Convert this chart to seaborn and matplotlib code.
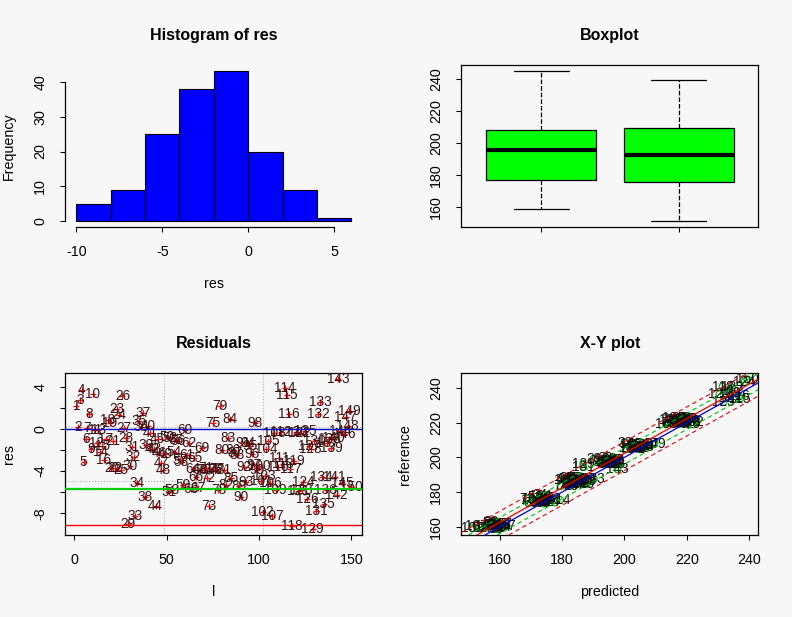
import numpy as np
import pandas as pd
import matplotlib
matplotlib.use("Agg")
import matplotlib.pyplot as plt
import seaborn as sns

res = [
    2.15, 0.18, 2.72, 3.67, -3.17, -0.95, 0.05, 1.36, -1.95, 3.26,
    -0.10, -1.30, -0.15, -2.20, -1.60, -2.98, -1.00, 0.85, 0.60, -3.70,
    -1.20, -3.75, 1.90, 1.35, -3.86, 3.16, 0.10, -0.86, -9.00, -3.50,
    -1.71, -2.66, -8.30, -5.13, 0.72, 0.15, 1.50, -6.50, -1.50, 0.25,
    -0.40, -1.90, -1.92, -7.30, -1.00, -2.30, -3.20, -3.90, -2.35, -0.80,
    -5.95, -0.90, -5.80, -2.20, -1.10, -1.20, -3.00, -3.10, -5.30, -0.13,
    -2.50, -1.30, -5.70, -3.80, -2.80, -4.60, -5.60, -3.95, -1.80, -3.90,
    -3.75, -4.70, -7.30, -3.88, 0.57, -3.95, -3.85, -5.76, 2.15, -1.96,
    -3.92, -5.30, -0.86, 0.95, -4.65, -2.05, -2.30, -2.50, -5.40, -6.45,
    -1.34, -3.60, -5.00, -1.30, -1.60, -2.40, -3.40, 0.57, -3.90, -3.50,
    -4.90, -7.90, -4.50, -1.90, -1.17, -5.10, -8.30, -0.40, -5.80, -3.60,
    -2.80, -0.30, -3.30, 3.90, 3.25, 1.45, -3.80, -9.20, -3.07, -0.30,
    -5.90, -0.35, -5.80, -5.00, -0.23, -6.70, -1.65, -1.95, -9.50, -1.20,
    -7.80, 1.45, 2.50, -4.60, -7.10, -5.80, -1.30, -1.00, -1.80, -0.85,
    -4.60, -6.30, 4.70, -0.20, -5.10, -0.50, 1.10, 0.25, 1.70, -5.55,
]

# reference values, same samples
reference = [
    185.2, 159.8, 220.4, 174.1, 197.6, 205.3, 186.9, 160.7, 221.8, 184.7,
    196.1, 184.6, 161.3, 206.8, 219.7, 177.0, 198.2, 187.5, 159.2, 222.6,
    175.3, 185.9, 196.0, 160.1, 207.2, 218.9, 174.8, 183.8, 199.1, 161.9,
    220.9, 186.2, 208.4, 178.1, 196.8, 158.8, 207.5, 188.3, 186.3, 197.3,
    204.9, 160.4, 222.1, 187.8, 176.6, 195.9, 161.6, 220.1, 185.5, 206.1,
    177.3, 198.6, 159.6, 184.9, 219.3, 174.5, 196.4, 205.8, 162.3, 186.6,
    221.5, 175.1, 199.4, 187.1, 160.9, 207.6, 222.9, 173.9, 197.9, 185.7,
    161.1, 220.6, 176.1, 183.5, 196.3, 204.6, 159.4, 219.6, 186.4, 174.6,
    198.9, 162.7, 221.9, 206.4, 188.0, 175.6, 196.2, 160.3, 220.2, 187.3,
    205.6, 188.2, 197.1, 184.3, 161.4, 222.3, 198.1, 173.5, 186.0, 221.3,
    160.6, 159.2, 221.4, 185.1, 196.7, 175.7, 160.8, 206.2, 219.1, 187.6,
    197.5, 174.3, 205.1, 175.5, 233.8, 235.2, 238.1, 240.6, 236.9, 220.7,
    236.3, 234.1, 240.2, 243.4, 231.9, 222.4, 196.9, 185.4, 196.3, 206.9,
    194.6, 220.3, 187.7, 177.6, 221.7, 186.8, 161.7, 205.5, 219.8, 185.3,
    198.4, 222.2, 193.1, 185.8, 207.4, 220.8, 160.5, 175.8, 207.9, 244.9,
]

sample_id = list(range(1, len(res) + 1))
hist_breaks = [-10, -8, -6, -4, -2, 0, 2, 4, 6]

# horizontal reference lines on the residual panel
green_level = -5.75
red_level = -9.1
# dashed bands on the X-Y panel (offsets around the 1:1 line)
band_centre = 0.7
band_inner = 4.6
band_outer = 8.3

BG = "#f7f7f7"


def r_range(vals):
    lo, hi = min(vals), max(vals)
    pad = 0.04 * (hi - lo)
    return lo - pad, hi + pad


def r_axes(ax, title, xlabel, ylabel):
    ax.set_title(title, fontsize=11.5, fontweight="bold", pad=18)
    ax.set_xlabel(xlabel, fontsize=10.3, labelpad=12.5)
    ax.set_ylabel(ylabel, fontsize=10.3, labelpad=12.5)
    ax.tick_params(axis="both", direction="out", length=3.6, width=0.75,
                   pad=9.5, labelsize=10.3, colors="black")
    ax.tick_params(axis="y", labelrotation=90)
    for t in ax.get_yticklabels():
        t.set_va("center")
    for s in ax.spines.values():
        s.set_linewidth(0.9)
        s.set_color("black")


sns.set_style("ticks", {"axes.facecolor": BG, "figure.facecolor": BG,
                        "axes.edgecolor": "black", "text.color": "black",
                        "axes.labelcolor": "black"})
plt.rcParams["font.family"] = ["Liberation Sans", "DejaVu Sans"]
plt.rcParams["axes.unicode_minus"] = False

res_arr = np.array(res)
ref_arr = np.array(reference)
predicted = ref_arr + res_arr

fig = plt.figure(figsize=(7.92, 6.17), dpi=100, facecolor=BG)
ax_hist = fig.add_axes([0.0825, 0.6316, 0.375, 0.2626])
ax_box = fig.add_axes([0.5825, 0.6316, 0.375, 0.2626])
ax_res = fig.add_axes([0.0825, 0.1329, 0.375, 0.2621])
ax_xy = fig.add_axes([0.5825, 0.1329, 0.375, 0.2621])

# --- histogram
sns.histplot(x=res, bins=hist_breaks, color="#0000ff", edgecolor="black",
             linewidth=0.8, alpha=1, ax=ax_hist)
counts, _ = np.histogram(res, bins=hist_breaks)
ax_hist.set_xlim(*r_range(hist_breaks))
ax_hist.set_ylim(*r_range([0, counts.max()]))
ax_hist.set_xticks([-10, -5, 0, 5])
ax_hist.set_yticks([0, 10, 20, 30, 40])
ax_hist.spines["top"].set_visible(False)
ax_hist.spines["right"].set_visible(False)
ax_hist.spines["bottom"].set_bounds(-10, 5)
ax_hist.spines["left"].set_bounds(0, 40)
r_axes(ax_hist, "Histogram of res", "res", "Frequency")

# --- boxplot
box_df = pd.DataFrame({
    "group": ["reference"] * len(reference) + ["predicted"] * len(reference),
    "value": list(ref_arr) + list(predicted),
})
sns.boxplot(data=box_df, x="group", y="value", color="#00ff00", saturation=1,
            linecolor="black", linewidth=0.9, width=0.8,
            whiskerprops=dict(linestyle="--"), medianprops=dict(linewidth=3),
            ax=ax_box)
ax_box.set_xlim(-0.58, 1.58)
ax_box.set_ylim(*r_range(box_df["value"]))
ax_box.set_xticks([0, 1])
ax_box.set_xticklabels(["", ""])
ax_box.set_yticks([160, 180, 200, 220, 240])
r_axes(ax_box, "Boxplot", "", "")

# --- residuals
xl = r_range(sample_id)
yl = r_range(res)
ax_res.set_xlim(*xl)
ax_res.set_ylim(*yl)
for k in (1, 2):
    ax_res.axvline(xl[0] + k * (xl[1] - xl[0]) / 3, color="#b0b0b0",
                   ls=":", lw=0.8, zorder=0)
    ax_res.axhline(yl[0] + k * (yl[1] - yl[0]) / 3, color="#b0b0b0",
                   ls=":", lw=0.8, zorder=0)
sns.scatterplot(x=sample_id, y=res, marker="+", color="red", s=20,
                linewidth=0.9, ax=ax_res, zorder=2)
for i, r in zip(sample_id, res):
    ax_res.text(i, r, str(i), ha="center", va="center", fontsize=9.8,
                color="#3a1414", zorder=3)
ax_res.axhline(0, color="#0000cc", lw=1, zorder=4)
ax_res.axhline(green_level, color="#00cc00", lw=1.6, zorder=4)
ax_res.axhline(red_level, color="#ee0000", lw=1, zorder=4)
ax_res.set_xticks([0, 50, 100, 150])
ax_res.set_yticks([-8, -6, -4, -2, 0, 2, 4])
ax_res.set_yticklabels(["-8", "", "-4", "", "0", "", "4"])
r_axes(ax_res, "Residuals", "l", "res")

# --- X-Y plot
ax_xy.set_xlim(*r_range(predicted))
ax_xy.set_ylim(*r_range(reference))
sns.scatterplot(x=predicted, y=ref_arr, marker="o", s=24, facecolors="none",
                edgecolor="#00b000", linewidth=0.8, ax=ax_xy, zorder=2)
for i, p, r in zip(sample_id, predicted, ref_arr):
    ax_xy.text(p, r, str(i), ha="center", va="center", fontsize=9.8,
               color="#111111", zorder=3)
slope, intercept = np.polyfit(predicted, ref_arr, 1)
for off in (band_outer, -band_outer):
    ax_xy.axline((0, band_centre + off), slope=1, color="#ee0000", lw=0.8,
                 dashes=(4, 3), zorder=4)
for off in (band_inner, -band_inner):
    ax_xy.axline((0, band_centre + off), slope=1, color="#00c000", lw=0.8,
                 dashes=(4, 3), zorder=4)
ax_xy.axline((0, 0), slope=1, color="#0000cc", lw=0.9, zorder=4)
ax_xy.axline((0, intercept), slope=slope, color="#ee0000", lw=0.9, zorder=4)
ax_xy.set_xticks([160, 180, 200, 220, 240])
ax_xy.set_yticks([160, 180, 200, 220, 240])
r_axes(ax_xy, "X-Y plot", "predicted", "reference")

fig.savefig("out.png", dpi=100, facecolor=BG)
